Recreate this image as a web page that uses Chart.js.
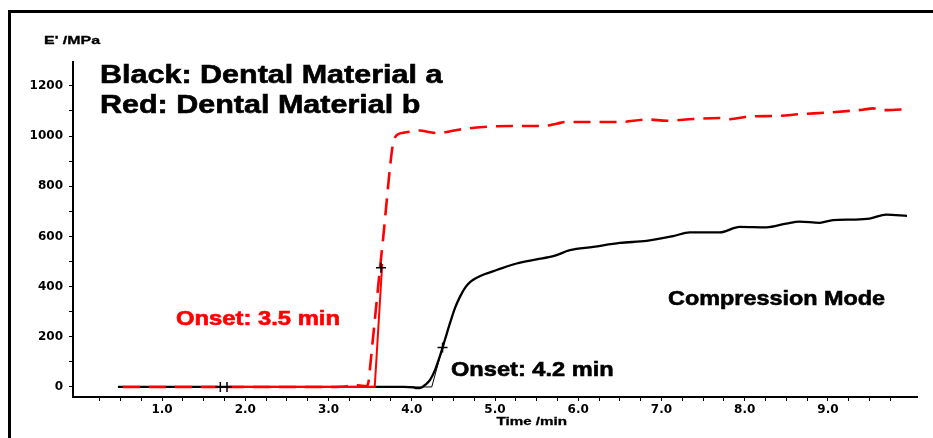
<!DOCTYPE html>
<html>
<head>
<meta charset="utf-8">
<script src="https://cdn.jsdelivr.net/npm/chart.js@4"></script>
<style>
html,body{margin:0;padding:0;background:#fff;}
#wrap{width:933px;height:438px;position:relative;}
</style>
</head>
<body>
<div id="wrap"><canvas id="c" width="933" height="438"></canvas></div>
<script>
// ---- data (time in min, E' in MPa) ----
const blackTime = [0.47,1.0,2.0,3.0,3.9,4.02,4.06,4.12,4.16,4.22,4.28,4.34,4.40,4.46,4.52,4.58,4.64,4.70,4.78,4.88,5.02,5.26,5.50,5.70,5.90,6.18,6.50,6.82,7.14,7.34,7.70,7.94,8.26,8.50,8.66,8.90,9.06,9.30,9.50,9.70,9.95];
const blackModulus = [0,0,0,0,0,-2,-5,-2,8,28,68,125,190,255,315,360,395,418,435,450,466,492,508,521,545,558,574,582,601,616,616,638,636,651,659,654,665,667,671,687,682];

const redTime = [0.53,1.0,2.0,3.0,3.2,3.3,3.38,3.45,3.48,3.50,3.54,3.58,3.62,3.66,3.70,3.74,3.77,3.80,3.84,3.90,4.0,4.1,4.2,4.3,4.4,4.58,4.86,5.18,5.58,5.75,5.85,6.5,6.83,7.07,7.38,7.70,7.82,8.06,8.39,8.66,9.02,9.42,9.54,9.65,9.89];
const redModulus = [0,0,0,0,2,7,6,3,20,81,214,346,479,605,745,880,960,995,1008,1013,1018,1022,1016,1012,1015,1026,1036,1040,1040,1050,1056,1056,1066,1061,1068,1072,1067,1078,1080,1087,1094,1105,1110,1103,1106];

const redTangentTime = [1.74,3.555,3.645];
const redTangentModulus = [0,0,490];
const blackTangentTime = [3.95,4.24,4.37];
const blackTangentModulus = [0,0,157];
const markerTime = [1.70,1.78,3.63,4.37];
const markerModulus = [0,0,475,157];

const xTickPositions = [];
for (let k = 1; k <= 39; k++) xTickPositions.push(k/4);
const xTickLabels = ["1.0","2.0","3.0","4.0","5.0","6.0","7.0","8.0","9.0"];
const yTickPositions = [0,100,200,300,400,500,600,700,800,900,1000,1100,1200];
const yTickLabels = ["0","200","400","600","800","1000","1200"];

const pts = (xs, ys) => xs.map((x,i)=>({x:x, y:ys[i]}));

const textPlugin = {
  id:'texts',
  afterDraw(chart){
    const ctx = chart.ctx;
    ctx.save();
    // outer frame (top & left)
    ctx.strokeStyle = '#000';
    ctx.lineWidth = 3;
    ctx.beginPath();
    ctx.moveTo(9.5, 438); ctx.lineTo(9.5, 11.5); ctx.lineTo(933, 11.5);
    ctx.stroke();
    const draw = (txt, x, y, size, sx, color) => {
      ctx.save();
      ctx.font = 'bold ' + size + 'px "Liberation Sans", Arial, sans-serif';
      ctx.fillStyle = color;
      ctx.strokeStyle = color;
      ctx.lineWidth = size > 15 ? 0.6 : 0.3;
      ctx.textBaseline = 'alphabetic';
      ctx.textAlign = 'left';
      ctx.translate(x, y);
      ctx.scale(sx, 1);
      ctx.fillText(txt, 0, 0);
      ctx.strokeText(txt, 0, 0);
      ctx.restore();
    };
    draw("E' /MPa", 44, 43.5, 11, 1.45, '#000');
    draw("Time /min", 496.5, 424.5, 11, 1.38, '#000');
    draw("Black: Dental Material a", 100, 83, 25, 1.22, '#000');
    draw("Red: Dental Material b", 100, 113, 25, 1.22, '#000');
    draw("Onset: 3.5 min", 176, 325, 20, 1.19, '#ff0000');
    draw("Onset: 4.2 min", 451, 376, 20, 1.18, '#000');
    draw("Compression Mode", 668, 305, 20, 1.17, '#000');
    ctx.restore();
  }
};

new Chart(document.getElementById('c'), {
  type: 'scatter',
  data: {
    datasets: [
      { label:'markers', data: pts(markerTime, markerModulus), showLine:false,
        pointStyle:'cross', pointRadius:5, pointBorderColor:'#000', pointBorderWidth:1.5, backgroundColor:'#000' },
      { label:'Dental Material b', data: pts(redTime, redModulus), showLine:true,
        borderColor:'#ff0000', borderWidth:2.6, borderDash:[17,9], pointRadius:0, cubicInterpolationMode:'monotone', fill:false },
      { label:'b tangent', data: pts(redTangentTime, redTangentModulus), showLine:true,
        borderColor:'#ff0000', borderWidth:2, pointRadius:0, tension:0, fill:false },
      { label:'a tangent', data: pts(blackTangentTime, blackTangentModulus), showLine:true,
        borderColor:'#000', borderWidth:1, pointRadius:0, tension:0, fill:false },
      { label:'Dental Material a', data: pts(blackTime, blackModulus), showLine:true,
        borderColor:'#000', borderWidth:2.3, pointRadius:0, cubicInterpolationMode:'monotone', fill:false }
    ]
  },
  options: {
    responsive:false,
    animation:false,
    events:[],
    layout:{ padding:{ top:62, right:16, left:0, bottom:0 } },
    plugins:{ legend:{display:false}, tooltip:{enabled:false} },
    scales:{
      x:{
        type:'linear', min:-0.07, max:10.07,
        afterBuildTicks(s){ s.ticks = xTickPositions.map(v=>({value:v})); },
        afterFit(s){ s.height = 41; },
        ticks:{
          autoSkip:false, maxRotation:0, padding:2, color:'#000',
          font:{ family:'"DejaVu Sans"', weight:'bold', size:12 },
          callback(v){ const i = Math.round(v)-1; return (Math.abs(v-Math.round(v))<1e-6 && i>=0 && i<xTickLabels.length) ? xTickLabels[i] : ''; }
        },
        grid:{ drawOnChartArea:false, drawTicks:true, tickLength:4, tickColor:'#000', tickWidth:1 },
        border:{ display:true, color:'#000', width:2 }
      },
      y:{
        type:'linear', min:-40, max:1295,
        afterBuildTicks(s){ s.ticks = yTickPositions.map(v=>({value:v})); },
        afterFit(s){ s.width = 73; },
        ticks:{
          autoSkip:false, padding:6, color:'#000',
          font:{ family:'"DejaVu Sans"', weight:'bold', size:12 },
          callback(v){ return (v % 200 === 0) ? yTickLabels[v/200] : ''; }
        },
        grid:{ drawOnChartArea:false, drawTicks:true, tickLength:4, tickColor:'#000', tickWidth:1 },
        border:{ display:true, color:'#000', width:2 }
      }
    }
  },
  plugins:[textPlugin]
});
</script>
</body>
</html>
